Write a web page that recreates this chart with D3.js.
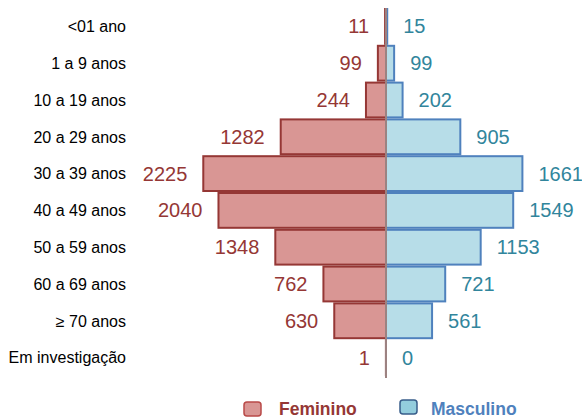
<!DOCTYPE html>
<html><head><meta charset="utf-8">
<script src="https://cdn.jsdelivr.net/npm/d3@7"></script>
<style>body{margin:0;background:#fff;}svg{display:block;}</style>
</head><body>
<svg id="c" width="582" height="419"></svg>
<script>
const categories = ["<01 ano","1 a 9 anos","10 a 19 anos","20 a 29 anos","30 a 39 anos","40 a 49 anos","50 a 59 anos","60 a 69 anos","≥ 70 anos","Em investigação"];
const feminino = [11,99,244,1282,2225,2040,1348,762,630,1];
const masculino = [15,99,202,905,1661,1549,1153,721,561,0];
const seriesNames = ["Feminino","Masculino"];

const svg = d3.select("#c");
const cx = 386;
const x = d3.scaleLinear().domain([-2500, 2500]).range([cx - 205.3, cx + 205.3]);
const y = d3.scaleBand().domain(categories).range([8, 376]).padding(0);
const font = "'Liberation Sans', Arial, sans-serif";

// female bars
svg.append("g").selectAll("rect").data(feminino).join("rect")
  .attr("x", d => x(-d)).attr("y", (d,i) => y(categories[i]) + 1)
  .attr("width", d => x(0) - x(-d)).attr("height", y.bandwidth() - 2)
  .attr("fill", "#d99694").attr("stroke", "#953735").attr("stroke-width", 2)
  .style("display", d => d > 0 ? null : "none");
// male bars
svg.append("g").selectAll("rect").data(masculino).join("rect")
  .attr("x", x(0)).attr("y", (d,i) => y(categories[i]) + 1)
  .attr("width", d => x(d) - x(0)).attr("height", y.bandwidth() - 2)
  .attr("fill", "#b7dde8").attr("stroke", "#4f81bd").attr("stroke-width", 2)
  .style("display", d => d > 0 ? null : "none");

// center line
svg.append("line").attr("x1", cx).attr("x2", cx).attr("y1", 8).attr("y2", 378)
  .attr("stroke", "#9c8281").attr("stroke-width", 2);

// value labels
svg.append("g").selectAll("text").data(feminino).join("text")
  .attr("x", d => x(-d) - 16).attr("y", (d,i) => y(categories[i]) + y.bandwidth()/2 + 7)
  .attr("text-anchor", "end").attr("font-family", font).attr("font-size", 20)
  .attr("fill", "#953735").text(d => d);
svg.append("g").selectAll("text").data(masculino).join("text")
  .attr("x", d => x(d) + 16).attr("y", (d,i) => y(categories[i]) + y.bandwidth()/2 + 7)
  .attr("text-anchor", "start").attr("font-family", font).attr("font-size", 20)
  .attr("fill", "#31859c").text(d => d);

// category axis labels
const ax = svg.append("g").attr("transform", "translate(126,0)")
  .call(d3.axisLeft(y).tickSize(0).tickPadding(0));
ax.attr("font-family", font).attr("font-size", 16);
ax.select(".domain").remove();
ax.selectAll("text").attr("fill", "#000").attr("dy", "0.36em")
  .style("font-family", font).style("font-size", "16px");

// legend
const leg = [
  {name: seriesNames[0], fill: "#d99694", stroke: "#b94a48", text: "#953735", sx: 244, sy: 402, tx: 279},
  {name: seriesNames[1], fill: "#93cddd", stroke: "#385d8a", text: "#4f81bd", sx: 400, sy: 400, tx: 431}
];
const lg = svg.append("g");
leg.forEach(l => {
  lg.append("rect").attr("x", l.sx).attr("y", l.sy).attr("width", 17).attr("height", 14)
    .attr("rx", 3).attr("fill", l.fill).attr("stroke", l.stroke).attr("stroke-width", 1.5);
  lg.append("text").attr("x", l.tx).attr("y", 415).attr("font-family", font)
    .attr("font-size", 17.5).attr("font-weight", "bold").attr("fill", l.text).text(l.name);
});
</script>
</body></html>
